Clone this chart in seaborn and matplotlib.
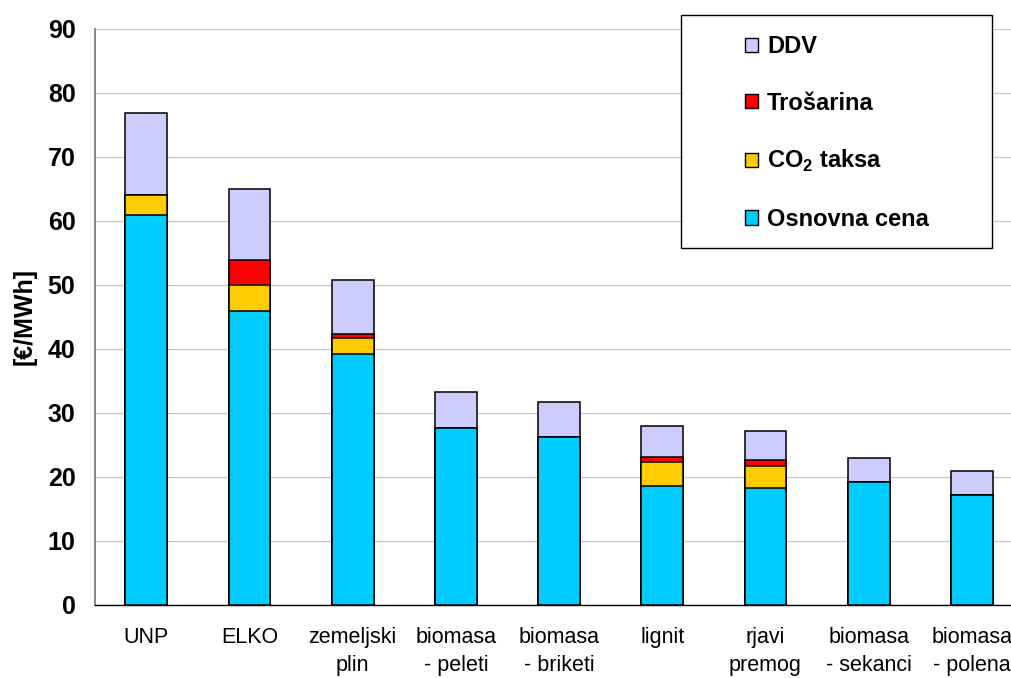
import numpy as np
import pandas as pd
import matplotlib
matplotlib.use("Agg")
import matplotlib.pyplot as plt
from matplotlib.patches import Patch, Rectangle
import seaborn as sns

# Fuel categories and price components [€/MWh]
categories = ["UNP", "ELKO", "zemeljski\nplin", "biomasa\n- peleti", "biomasa\n- briketi",
              "lignit", "rjavi\npremog", "biomasa\n- sekanci", "biomasa\n- polena"]
osnovna_cena = [60.9, 45.9, 39.2, 27.6, 26.2, 18.6, 18.3, 19.2, 17.2]
co2_taksa = [3.1, 4.1, 2.5, 0.0, 0.0, 3.65, 3.4, 0.0, 0.0]
trosarina = [0.0, 3.9, 0.6, 0.0, 0.0, 0.85, 0.9, 0.0, 0.0]
ddv = [12.8, 11.0, 8.5, 5.6, 5.5, 4.9, 4.5, 3.7, 3.7]

series_names = ["DDV", "Trošarina", "CO$_{\\mathbf{2}}$ taksa", "Osnovna cena"]
series_colors = ["#CCCCFF", "#FF0000", "#FFCC00", "#00CCFF"]

df = pd.DataFrame({
    "gorivo": categories,
    "osnovna": osnovna_cena,
    "co2": co2_taksa,
    "trosarina": trosarina,
    "ddv": ddv,
})
df["cum_base"] = df["osnovna"]
df["cum_co2"] = df["cum_base"] + df["co2"]
df["cum_tros"] = df["cum_co2"] + df["trosarina"]
df["cum_total"] = df["cum_tros"] + df["ddv"]

sns.set_style("white")
plt.rcParams["font.family"] = ["Liberation Sans", "DejaVu Sans"]
plt.rcParams["mathtext.fontset"] = "custom"
plt.rcParams["mathtext.bf"] = "Liberation Sans:bold"
plt.rcParams["mathtext.rm"] = "Liberation Sans:bold"
for key in ["text.color", "axes.labelcolor", "xtick.labelcolor", "ytick.labelcolor"]:
    plt.rcParams[key] = "black"

W, H = 1011, 678
fig = plt.figure(figsize=(W / 100, H / 100), dpi=100)
ax_left, ax_bottom, ax_right, ax_top = 94.7, 604.7, 94.7 + 9 * 103.2, 28.7
ax = fig.add_axes([ax_left / W, 1 - ax_bottom / H, (ax_right - ax_left) / W, (ax_bottom - ax_top) / H])

# stacked bars: draw cumulative totals from the top layer down
layers = [("cum_total", series_colors[0]), ("cum_tros", series_colors[1]),
          ("cum_co2", series_colors[2]), ("cum_base", series_colors[3])]
for col, colr in layers:
    sns.barplot(data=df, x="gorivo", y=col, order=categories, color=colr, saturation=1,
                edgecolor="black", linewidth=1.1, width=0.404, errorbar=None, ax=ax)

ax.set_xlim(-0.5, len(categories) - 0.5)
ax.set_ylim(0, 90)
ax.set_yticks(np.arange(0, 91, 10))
ax.set_xlabel("")
ax.set_ylabel("[€/MWh]", fontsize=18, fontweight="bold", labelpad=8)

ax.yaxis.grid(True, color="#c8c8c8", linewidth=0.9)
ax.xaxis.grid(False)
ax.set_axisbelow(True)

for s in ["top", "right"]:
    ax.spines[s].set_visible(False)
ax.spines["left"].set_color("#666666")
ax.spines["left"].set_linewidth(1.1)
ax.spines["bottom"].set_color("black")
ax.spines["bottom"].set_linewidth(1.0)

ax.tick_params(axis="y", which="major", direction="out", length=5.8, width=0.9,
               color="#444444", pad=8, labelsize=18)
for t in ax.get_yticklabels():
    t.set_fontweight("bold")

ax.set_xticks(np.arange(-0.5, len(categories), 1), minor=True)
ax.tick_params(axis="x", which="major", length=0, pad=16, labelsize=15.5)
ax.tick_params(axis="x", which="minor", direction="out", length=4.3, width=0.9, color="#444444")
for t in ax.get_xticklabels():
    t.set_linespacing(1.42)

# legend box
box = Rectangle((680.7 / W, 1 - 248 / H), (992 - 680.7) / W, (248 - 15.3) / H,
                transform=fig.transFigure, facecolor="white", edgecolor="black",
                linewidth=1.0, zorder=10)
fig.patches.append(box)

handles = [Patch(facecolor=c, edgecolor="black", linewidth=1.0) for c in series_colors]
leg = fig.legend(handles, series_names, loc="upper left",
                 bbox_to_anchor=(745 / W, 1 - 35 / H), bbox_transform=fig.transFigure,
                 frameon=False, borderpad=0, borderaxespad=0,
                 handlelength=0.55, handleheight=0.55, handletextpad=0.38,
                 labelspacing=1.42, prop={"size": 17, "weight": "bold"})
leg.set_zorder(11)

fig.savefig("out.png", dpi=100)
